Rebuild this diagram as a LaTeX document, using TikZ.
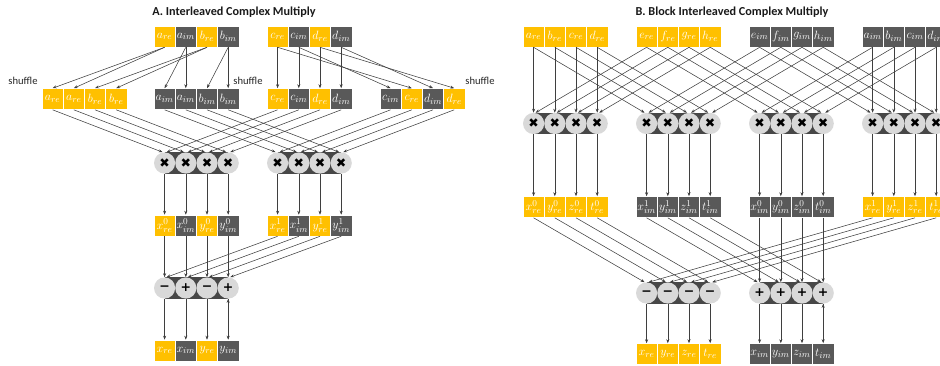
\documentclass[tikz,border=0pt]{standalone}
\usepackage{fontspec}
\usetikzlibrary{arrows.meta}
\newfontfamily\calibri{Carlito}
\newfontfamily\symfont{DejaVu Sans}
\definecolor{regold}{HTML}{FFC000}
\definecolor{imgray}{HTML}{595959}
\definecolor{opfill}{HTML}{D9D9D9}
\definecolor{opband}{HTML}{474747}
\definecolor{wiregray}{HTML}{3F3F3F}
\begin{document}
\begin{tikzpicture}[x=1pt,y=-1pt]
		\tikzstyle{REbox}=[rectangle,fill=regold,draw=white,line width=0.6pt,text=white,minimum width=21.2pt,minimum height=21pt,inner sep=0pt,font=\fontsize{13.2}{13.2}\selectfont]
		\tikzstyle{IMbox}=[REbox,fill=imgray]
		\tikzstyle{OP}=[circle,fill=opfill,minimum size=21.2pt,inner sep=0pt,font=\symfont\fontsize{12.5}{12.5}\selectfont]
		\tikzstyle{wire}=[->,>={Stealth[length=4pt,width=3pt]},draw=wiregray,line width=0.55pt]
		\tikzstyle{title}=[font=\calibri\bfseries\fontsize{12.2}{14}\selectfont,text=black!90]
		\tikzstyle{note}=[font=\calibri\fontsize{10.6}{12}\selectfont,text=black!85]
		\useasboundingbox (0,0) rectangle (940,365);

		% A. interleaved
		\node[title] (A-title) at (234,12.5) {A. Interleaved Complex Multiply};
		\node[note] (A-shuf1) at (23,81) {shuffle};
		\node[note] (A-shuf2) at (248,81) {shuffle};
		\node[note] (A-shuf3) at (480,81) {shuffle};

		\node[REbox] (A-t1) at (164.6,36.5) {$a_{re}$};
		\node[IMbox] (A-t2) at (185.8,36.5) {$a_{im}$};
		\node[REbox] (A-t3) at (207,36.5)   {$b_{re}$};
		\node[IMbox] (A-t4) at (228.2,36.5) {$b_{im}$};
		\node[REbox] (A-t5) at (277.6,36.5) {$c_{re}$};
		\node[IMbox] (A-t6) at (298.8,36.5) {$c_{im}$};
		\node[REbox] (A-t7) at (320,36.5)   {$d_{re}$};
		\node[IMbox] (A-t8) at (341.2,36.5) {$d_{im}$};

		\node[REbox] (A-s1)  at (52.6,99)  {$a_{re}$};
		\node[REbox] (A-s2)  at (73.8,99)  {$a_{re}$};
		\node[REbox] (A-s3)  at (95,99)    {$b_{re}$};
		\node[REbox] (A-s4)  at (116.2,99) {$b_{re}$};
		\node[IMbox] (A-s5)  at (164.6,99) {$a_{im}$};
		\node[IMbox] (A-s6)  at (185.8,99) {$a_{im}$};
		\node[IMbox] (A-s7)  at (207,99)   {$b_{im}$};
		\node[IMbox] (A-s8)  at (228.2,99) {$b_{im}$};
		\node[REbox] (A-s9)  at (277.6,99) {$c_{re}$};
		\node[IMbox] (A-s10) at (298.8,99) {$c_{im}$};
		\node[REbox] (A-s11) at (320,99)   {$d_{re}$};
		\node[IMbox] (A-s12) at (341.2,99) {$d_{im}$};
		\node[IMbox] (A-s13) at (390.6,99) {$c_{im}$};
		\node[REbox] (A-s14) at (411.8,99) {$c_{re}$};
		\node[IMbox] (A-s15) at (433,99)   {$d_{im}$};
		\node[REbox] (A-s16) at (454.2,99) {$d_{re}$};

		% bands behind the operator circles
		\fill[opband] (164.6,152.4) rectangle (228.2,173.6);
		\fill[opband] (277.6,152.4) rectangle (341.2,173.6);
		\fill[opband] (164.6,277.4) rectangle (228.2,298.6);

		\node[OP] (A-m1) at (164.6,163) {✖};
		\node[OP] (A-m2) at (185.8,163) {✖};
		\node[OP] (A-m3) at (207,163)   {✖};
		\node[OP] (A-m4) at (228.2,163) {✖};
		\node[OP] (A-m5) at (277.6,163) {✖};
		\node[OP] (A-m6) at (298.8,163) {✖};
		\node[OP] (A-m7) at (320,163)   {✖};
		\node[OP] (A-m8) at (341.2,163) {✖};

		\node[REbox] (A-x1) at (164.6,225.5) {$x^0_{re}$};
		\node[IMbox] (A-x2) at (185.8,225.5) {$x^0_{im}$};
		\node[REbox] (A-x3) at (207,225.5)   {$y^0_{re}$};
		\node[IMbox] (A-x4) at (228.2,225.5) {$y^0_{im}$};
		\node[REbox] (A-x5) at (277.6,225.5) {$x^1_{re}$};
		\node[IMbox] (A-x6) at (298.8,225.5) {$x^1_{im}$};
		\node[REbox] (A-x7) at (320,225.5)   {$y^1_{re}$};
		\node[IMbox] (A-x8) at (341.2,225.5) {$y^1_{im}$};

		\node[OP] (A-p1) at (164.6,288) {\bfseries −};
		\node[OP] (A-p2) at (185.8,288) {\bfseries +};
		\node[OP] (A-p3) at (207,288)   {\bfseries −};
		\node[OP] (A-p4) at (228.2,288) {\bfseries +};

		\node[REbox] (A-o1) at (164.6,350.5) {$x_{re}$};
		\node[IMbox] (A-o2) at (185.8,350.5) {$x_{im}$};
		\node[REbox] (A-o3) at (207,350.5)   {$y_{re}$};
		\node[IMbox] (A-o4) at (228.2,350.5) {$y_{im}$};

		\path[wire]
		(A-t1.south) edge (A-s1.north)
		(A-t1.south) edge (A-s2.north)
		(A-t2.south) edge (A-s5.north)
		(A-t2.south) edge (A-s6.north)
		(A-t3.south) edge (A-s3.north)
		(A-t3.south) edge (A-s4.north)
		(A-t4.south) edge (A-s7.north)
		(A-t4.south) edge (A-s8.north)
		(A-t5.south) edge (A-s9.north)
		(A-t5.south) edge (A-s14.north)
		(A-t6.south) edge (A-s10.north)
		(A-t6.south) edge (A-s13.north)
		(A-t7.south) edge (A-s11.north)
		(A-t7.south) edge (A-s16.north)
		(A-t8.south) edge (A-s12.north)
		(A-t8.south) edge (A-s15.north)
		(A-s1.south)  edge ([xshift=-2]A-m1.north)
		(A-s2.south)  edge ([xshift=-2]A-m2.north)
		(A-s3.south)  edge ([xshift=-2]A-m3.north)
		(A-s4.south)  edge ([xshift=-2]A-m4.north)
		(A-s9.south)  edge ([xshift=2]A-m1.north)
		(A-s10.south) edge ([xshift=2]A-m2.north)
		(A-s11.south) edge ([xshift=2]A-m3.north)
		(A-s12.south) edge ([xshift=2]A-m4.north)
		(A-s5.south)  edge ([xshift=-2]A-m5.north)
		(A-s6.south)  edge ([xshift=-2]A-m6.north)
		(A-s7.south)  edge ([xshift=-2]A-m7.north)
		(A-s8.south)  edge ([xshift=-2]A-m8.north)
		(A-s13.south) edge ([xshift=2]A-m5.north)
		(A-s14.south) edge ([xshift=2]A-m6.north)
		(A-s15.south) edge ([xshift=2]A-m7.north)
		(A-s16.south) edge ([xshift=2]A-m8.north)
		(A-m1.south) edge (A-x1.north)
		(A-m2.south) edge (A-x2.north)
		(A-m3.south) edge (A-x3.north)
		(A-m4.south) edge (A-x4.north)
		(A-m5.south) edge (A-x5.north)
		(A-m6.south) edge (A-x6.north)
		(A-m7.south) edge (A-x7.north)
		(A-m8.south) edge (A-x8.north)
		(A-x1.south) edge (A-p1.north)
		(A-x2.south) edge (A-p2.north)
		(A-x3.south) edge (A-p3.north)
		(A-x4.south) edge (A-p4.north)
		(A-x5.south) edge ([xshift=2]A-p1.north)
		(A-x6.south) edge ([xshift=2]A-p2.north)
		(A-x7.south) edge ([xshift=2]A-p3.north)
		(A-x8.south) edge ([xshift=2]A-p4.north)
		(A-p1.south) edge (A-o1.north)
		(A-p2.south) edge (A-o2.north)
		(A-p3.south) edge (A-o3.north)
		(A-p4.south) edge (A-o4.north)
		;

		% B. block interleaved
		\node[title] (B-title) at (732,12.5) {B. Block Interleaved Complex Multiply};

		\node[REbox] (B-t1)  at (533.6,36.5) {$a_{re}$};
		\node[REbox] (B-t2)  at (554.8,36.5) {$b_{re}$};
		\node[REbox] (B-t3)  at (576,36.5)   {$c_{re}$};
		\node[REbox] (B-t4)  at (597.2,36.5) {$d_{re}$};
		\node[REbox] (B-t5)  at (646.6,36.5) {$e_{re}$};
		\node[REbox] (B-t6)  at (667.8,36.5) {$f_{re}$};
		\node[REbox] (B-t7)  at (689,36.5)   {$g_{re}$};
		\node[REbox] (B-t8)  at (710.2,36.5) {$h_{re}$};
		\node[IMbox] (B-t9)  at (759.6,36.5) {$e_{im}$};
		\node[IMbox] (B-t10) at (780.8,36.5) {$f_{im}$};
		\node[IMbox] (B-t11) at (802,36.5)   {$g_{im}$};
		\node[IMbox] (B-t12) at (823.2,36.5) {$h_{im}$};
		\node[IMbox] (B-t13) at (872.6,36.5) {$a_{im}$};
		\node[IMbox] (B-t14) at (893.8,36.5) {$b_{im}$};
		\node[IMbox] (B-t15) at (915,36.5)   {$c_{im}$};
		\node[IMbox] (B-t16) at (936.2,36.5) {$d_{im}$};

		\fill[opband] (533.6,112.9) rectangle (597.2,134.1);
		\fill[opband] (646.6,112.9) rectangle (710.2,134.1);
		\fill[opband] (759.6,112.9) rectangle (823.2,134.1);
		\fill[opband] (872.6,112.9) rectangle (936.2,134.1);
		\fill[opband] (646.6,282.4) rectangle (710.2,303.6);
		\fill[opband] (759.6,282.4) rectangle (823.2,303.6);

		\node[OP] (B-m1)  at (533.6,123.5) {✖};
		\node[OP] (B-m2)  at (554.8,123.5) {✖};
		\node[OP] (B-m3)  at (576,123.5)   {✖};
		\node[OP] (B-m4)  at (597.2,123.5) {✖};
		\node[OP] (B-m5)  at (646.6,123.5) {✖};
		\node[OP] (B-m6)  at (667.8,123.5) {✖};
		\node[OP] (B-m7)  at (689,123.5)   {✖};
		\node[OP] (B-m8)  at (710.2,123.5) {✖};
		\node[OP] (B-m9)  at (759.6,123.5) {✖};
		\node[OP] (B-m10) at (780.8,123.5) {✖};
		\node[OP] (B-m11) at (802,123.5)   {✖};
		\node[OP] (B-m12) at (823.2,123.5) {✖};
		\node[OP] (B-m13) at (872.6,123.5) {✖};
		\node[OP] (B-m14) at (893.8,123.5) {✖};
		\node[OP] (B-m15) at (915,123.5)   {✖};
		\node[OP] (B-m16) at (936.2,123.5) {✖};

		\node[REbox] (B-x1)  at (533.6,207) {$x^0_{re}$};
		\node[REbox] (B-x2)  at (554.8,207) {$y^0_{re}$};
		\node[REbox] (B-x3)  at (576,207)   {$z^0_{re}$};
		\node[REbox] (B-x4)  at (597.2,207) {$t^0_{re}$};
		\node[IMbox] (B-x5)  at (646.6,207) {$x^1_{im}$};
		\node[IMbox] (B-x6)  at (667.8,207) {$y^1_{im}$};
		\node[IMbox] (B-x7)  at (689,207)   {$z^1_{im}$};
		\node[IMbox] (B-x8)  at (710.2,207) {$t^1_{im}$};
		\node[IMbox] (B-x9)  at (759.6,207) {$x^0_{im}$};
		\node[IMbox] (B-x10) at (780.8,207) {$y^0_{im}$};
		\node[IMbox] (B-x11) at (802,207)   {$z^0_{im}$};
		\node[IMbox] (B-x12) at (823.2,207) {$t^0_{im}$};
		\node[REbox] (B-x13) at (872.6,207) {$x^1_{re}$};
		\node[REbox] (B-x14) at (893.8,207) {$y^1_{re}$};
		\node[REbox] (B-x15) at (915,207)   {$z^1_{re}$};
		\node[REbox] (B-x16) at (936.2,207) {$t^1_{re}$};

		\node[OP] (B-p1) at (646.6,293) {\bfseries −};
		\node[OP] (B-p2) at (667.8,293) {\bfseries −};
		\node[OP] (B-p3) at (689,293)   {\bfseries −};
		\node[OP] (B-p4) at (710.2,293) {\bfseries −};
		\node[OP] (B-p5) at (759.6,293) {\bfseries +};
		\node[OP] (B-p6) at (780.8,293) {\bfseries +};
		\node[OP] (B-p7) at (802,293)   {\bfseries +};
		\node[OP] (B-p8) at (823.2,293) {\bfseries +};

		\node[REbox] (B-o1) at (646.6,354) {$x_{re}$};
		\node[REbox] (B-o2) at (667.8,354) {$y_{re}$};
		\node[REbox] (B-o3) at (689,354)   {$z_{re}$};
		\node[REbox] (B-o4) at (710.2,354) {$t_{re}$};
		\node[IMbox] (B-o5) at (759.6,354) {$x_{im}$};
		\node[IMbox] (B-o6) at (780.8,354) {$y_{im}$};
		\node[IMbox] (B-o7) at (802,354)   {$z_{im}$};
		\node[IMbox] (B-o8) at (823.2,354) {$t_{im}$};

		\path[wire]
		(B-t1.south) edge (B-m1.north)
		(B-t2.south) edge (B-m2.north)
		(B-t3.south) edge (B-m3.north)
		(B-t4.south) edge (B-m4.north)
		(B-t1.south) edge ([xshift=-2]B-m5.north)
		(B-t2.south) edge ([xshift=-2]B-m6.north)
		(B-t3.south) edge ([xshift=-2]B-m7.north)
		(B-t4.south) edge ([xshift=-2]B-m8.north)
		(B-t5.south) edge ([xshift=2]B-m1.north)
		(B-t6.south) edge ([xshift=2]B-m2.north)
		(B-t7.south) edge ([xshift=2]B-m3.north)
		(B-t8.south) edge ([xshift=2]B-m4.north)
		(B-t5.south) edge ([xshift=-2]B-m9.north)
		(B-t6.south) edge ([xshift=-2]B-m10.north)
		(B-t7.south) edge ([xshift=-2]B-m11.north)
		(B-t8.south) edge ([xshift=-2]B-m12.north)
		(B-t9.south)  edge ([xshift=2]B-m5.north)
		(B-t10.south) edge ([xshift=2]B-m6.north)
		(B-t11.south) edge ([xshift=2]B-m7.north)
		(B-t12.south) edge ([xshift=2]B-m8.north)
		(B-t9.south)  edge ([xshift=-2]B-m13.north)
		(B-t10.south) edge ([xshift=-2]B-m14.north)
		(B-t11.south) edge ([xshift=-2]B-m15.north)
		(B-t12.south) edge ([xshift=-2]B-m16.north)
		(B-t13.south) edge (B-m13.north)
		(B-t14.south) edge (B-m14.north)
		(B-t15.south) edge (B-m15.north)
		(B-t16.south) edge (B-m16.north)
		(B-t13.south) edge ([xshift=2]B-m9.north)
		(B-t14.south) edge ([xshift=2]B-m10.north)
		(B-t15.south) edge ([xshift=2]B-m11.north)
		(B-t16.south) edge ([xshift=2]B-m12.north)
		(B-m1.south)  edge (B-x1.north)
		(B-m2.south)  edge (B-x2.north)
		(B-m3.south)  edge (B-x3.north)
		(B-m4.south)  edge (B-x4.north)
		(B-m5.south)  edge (B-x5.north)
		(B-m6.south)  edge (B-x6.north)
		(B-m7.south)  edge (B-x7.north)
		(B-m8.south)  edge (B-x8.north)
		(B-m9.south)  edge (B-x9.north)
		(B-m10.south) edge (B-x10.north)
		(B-m11.south) edge (B-x11.north)
		(B-m12.south) edge (B-x12.north)
		(B-m13.south) edge (B-x13.north)
		(B-m14.south) edge (B-x14.north)
		(B-m15.south) edge (B-x15.north)
		(B-m16.south) edge (B-x16.north)
		(B-x1.south)  edge ([xshift=-2]B-p1.north)
		(B-x2.south)  edge ([xshift=-2]B-p2.north)
		(B-x3.south)  edge ([xshift=-2]B-p3.north)
		(B-x4.south)  edge ([xshift=-2]B-p4.north)
		(B-x13.south) edge ([xshift=2]B-p1.north)
		(B-x14.south) edge ([xshift=2]B-p2.north)
		(B-x15.south) edge ([xshift=2]B-p3.north)
		(B-x16.south) edge ([xshift=2]B-p4.north)
		(B-x5.south)  edge ([xshift=-2]B-p5.north)
		(B-x6.south)  edge ([xshift=-2]B-p6.north)
		(B-x7.south)  edge ([xshift=-2]B-p7.north)
		(B-x8.south)  edge ([xshift=-2]B-p8.north)
		(B-x9.south)  edge (B-p5.north)
		(B-x10.south) edge (B-p6.north)
		(B-x11.south) edge (B-p7.north)
		(B-x12.south) edge (B-p8.north)
		(B-p1.south) edge (B-o1.north)
		(B-p2.south) edge (B-o2.north)
		(B-p3.south) edge (B-o3.north)
		(B-p4.south) edge (B-o4.north)
		(B-p5.south) edge (B-o5.north)
		(B-p6.south) edge (B-o6.north)
		(B-p7.south) edge (B-o7.north)
		(B-p8.south) edge (B-o8.north)
		;
\end{tikzpicture}
\end{document}
